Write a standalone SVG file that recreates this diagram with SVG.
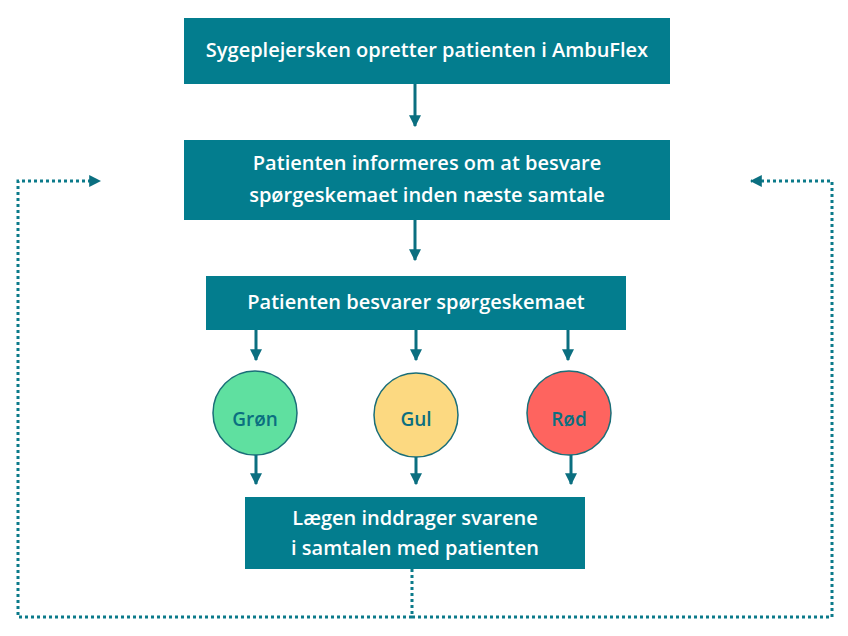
<svg xmlns="http://www.w3.org/2000/svg" width="848" height="636" viewBox="0 0 848 636">
<style>
.box{fill:#037d8e}
.t{font-family:"Open Sans","Noto Sans",sans-serif;font-weight:600;font-size:20px;fill:#fff;text-anchor:middle}
.c{font-family:"Open Sans","Noto Sans",sans-serif;font-weight:600;font-size:19px;fill:#0b6f80;text-anchor:middle}
.a{stroke:#0b6f80;stroke-width:3;fill:none}
.d{stroke:#0b7a8a;stroke-width:3;fill:none;stroke-dasharray:3 3}
.circ{stroke:#1a6e78;stroke-width:1.5}
</style>
<defs>
<marker id="ah" viewBox="0 0 10 10" refX="9" refY="5" markerWidth="4" markerHeight="4" orient="auto"><path d="M0,0 L10,5 L0,10 z" fill="#0b6f80"/></marker>
</defs>
<rect width="848" height="636" fill="#fff"/>
<g id="n1"><rect class="box" x="184" y="18" width="486" height="66"/><text class="t" x="427" y="57">Sygeplejersken opretter patienten i AmbuFlex</text></g>
<g id="n2"><rect class="box" x="184" y="140" width="486" height="80"/><text class="t" x="427" y="170">Patienten informeres om at besvare</text><text class="t" x="427" y="202">spørgeskemaet inden næste samtale</text></g>
<g id="n3"><rect class="box" x="206" y="276" width="420" height="54"/><text class="t" x="416" y="309">Patienten besvarer spørgeskemaet</text></g>
<g id="n4"><circle class="circ" cx="255" cy="413" r="42" fill="#5fe0a0"/><text class="c" x="255" y="426">Grøn</text></g>
<g id="n5"><circle class="circ" cx="416" cy="415" r="42" fill="#fcd981"/><text class="c" x="416" y="426">Gul</text></g>
<g id="n6"><circle class="circ" cx="569" cy="413" r="42" fill="#fe645f"/><text class="c" x="569" y="426">Rød</text></g>
<g id="n7"><rect class="box" x="245" y="497" width="340" height="72"/><text class="t" x="415" y="525">Lægen inddrager svarene</text><text class="t" x="415" y="555">i samtalen med patienten</text></g>
<g id="connectors">
<line class="a" x1="415" y1="84" x2="415" y2="126" marker-end="url(#ah)"/>
<line class="a" x1="415" y1="220" x2="415" y2="260" marker-end="url(#ah)"/>
<line class="a" x1="256" y1="330" x2="256" y2="360" marker-end="url(#ah)"/>
<line class="a" x1="416" y1="330" x2="416" y2="360" marker-end="url(#ah)"/>
<line class="a" x1="568" y1="330" x2="568" y2="360" marker-end="url(#ah)"/>
<line class="a" x1="256" y1="455" x2="256" y2="484" marker-end="url(#ah)"/>
<line class="a" x1="416" y1="457" x2="416" y2="484" marker-end="url(#ah)"/>
<line class="a" x1="571" y1="455" x2="571" y2="484" marker-end="url(#ah)"/>
<polyline class="d" points="412,569 412,617 18,617 18,181 100,181" marker-end="url(#ah)"/>
<polyline class="d" points="412,617 832,617 832,181 751,181" marker-end="url(#ah)"/>
</g>
</svg>
